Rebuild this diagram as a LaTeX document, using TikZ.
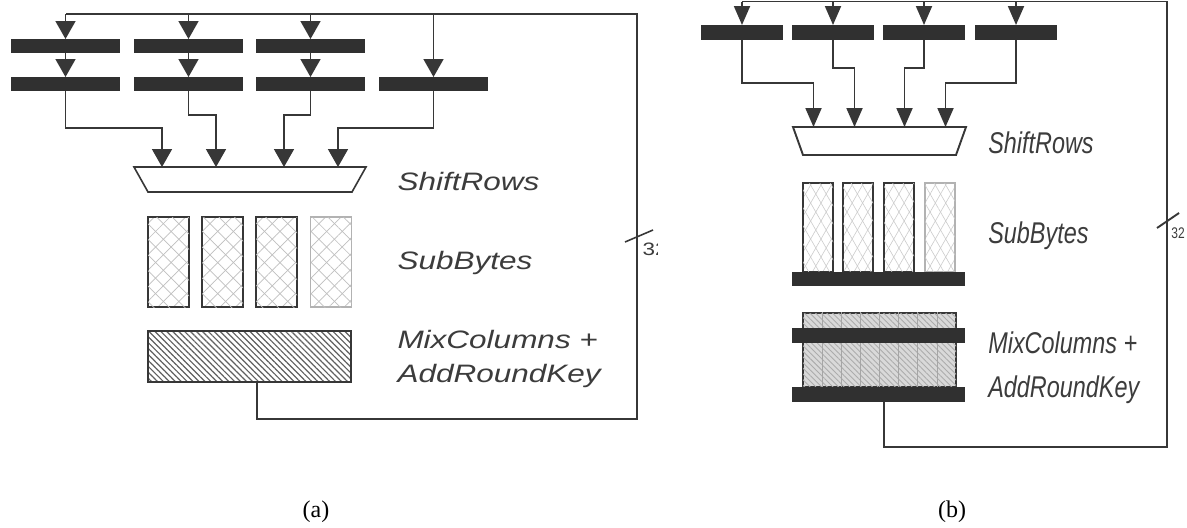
\documentclass[tikz,border=0pt]{standalone}
\usepackage{fontspec}
\setmainfont{Liberation Serif}
\setsansfont{Liberation Sans}
\usetikzlibrary{arrows.meta,patterns.meta}
\definecolor{linec}{RGB}{55,55,55}
\definecolor{barc}{RGB}{48,48,48}
\definecolor{txtc}{RGB}{60,60,60}

\begin{document}
\begin{tikzpicture}[x=0.5pt,y=-0.5pt]
\tikzset{
  wire/.style={draw=linec,line width=0.8pt},
  wireb/.style={draw=linec,line width=0.95pt},
  feeda/.style={wire,-{Triangle[length=9pt,width=10pt]}},
  feedb/.style={wireb,-{Triangle[length=9.5pt,width=8pt]}},
  rega/.style={rectangle,fill=barc,minimum width=54.5pt,minimum height=7pt,inner sep=0pt,outer sep=0pt},
  regb/.style={rectangle,fill=barc,minimum width=41pt,minimum height=7.5pt,inner sep=0pt,outer sep=0pt},
  wideb/.style={rectangle,fill=barc,minimum width=86.5pt,minimum height=7.5pt,inner sep=0pt,outer sep=0pt},
  muxbox/.style={rectangle,inner sep=0pt,outer sep=0pt},
  sboxa/.style={rectangle,draw=linec,line width=0.8pt,minimum width=20.5pt,minimum height=45pt,inner sep=0pt,
    pattern={Lines[angle=45,distance=5.5pt,line width=0.35pt]},pattern color=gray!50,
    postaction={pattern={Lines[angle=-45,distance=5.5pt,line width=0.35pt]},pattern color=gray!50}},
  sboxb/.style={rectangle,draw=linec,line width=0.95pt,minimum width=15pt,minimum height=44.5pt,inner sep=0pt,
    pattern={Lines[angle=60,distance=4.5pt,line width=0.3pt]},pattern color=gray!40,
    postaction={pattern={Lines[angle=-60,distance=4.5pt,line width=0.3pt]},pattern color=gray!40}},
  mixa/.style={rectangle,draw=linec,line width=0.8pt,minimum width=101.5pt,minimum height=25.5pt,inner sep=0pt,
    pattern={Lines[angle=-45,distance=2.1pt,line width=0.6pt]},pattern color=gray!75!black},
  mixb/.style={rectangle,draw=linec,line width=0.95pt,fill=gray!30,minimum width=76.5pt,minimum height=37pt,inner sep=0pt,
    postaction={pattern={Lines[angle=-45,distance=2pt,line width=0.45pt]},pattern color=gray!65}},
  divb/.style={draw=gray!70,line width=0.4pt},
  lbla/.style={font=\fontsize{12.6}{15}\selectfont\sffamily\itshape,text=txtc,inner sep=0pt,anchor=base west,xscale=1.25},
  lblb/.style={font=\fontsize{15}{18}\selectfont\sffamily\itshape,text=txtc,inner sep=0pt,anchor=base west,xscale=0.78},
  caption/.style={font=\fontsize{12}{14}\selectfont,inner sep=0pt}
}
\useasboundingbox[fill=white] (0,0) rectangle (1187,527);

\node[rega] (n_ap1) at (65.5,46) {};
\node[rega] (n_ap2) at (188.5,46) {};
\node[rega] (n_ap3) at (310.5,46) {};
\node[rega] (n_aq1) at (65.5,84) {};
\node[rega] (n_aq2) at (188.5,84) {};
\node[rega] (n_aq3) at (310.5,84) {};
\node[rega] (n_aq4) at (433.5,84) {};
\node[muxbox,minimum width=116pt,minimum height=12.5pt] (n_amux) at (250,179.5) {};
\node[sboxa] (n_as1) at (168.5,262) {};
\node[sboxa] (n_as2) at (222.5,262) {};
\node[sboxa] (n_as3) at (276.5,262) {};
\node[sboxa,draw=gray!60] (n_as4) at (331,262) {};
\node[mixa] (n_amix) at (249.5,356.5) {};
\coordinate (c_atr) at (637,14);
\coordinate (c_abr) at (637,419);
\node[lbla] (n_alsr) at (397,190) {ShiftRows};
\node[lbla] (n_alsb) at (397,269) {SubBytes};
\node[lbla] (n_almc) at (397,348) {MixColumns +};
\node[lbla] (n_alak) at (397,382) {AddRoundKey};
\draw[wire] ([xshift=3.75pt]n_amix.south) |- (c_abr) -- (c_atr) -- (n_ap1.north |- c_atr);
\draw[feeda] (n_ap1.north |- c_atr) -- (n_ap1.north);
\draw[feeda] (n_ap2.north |- c_atr) -- (n_ap2.north);
\draw[feeda] (n_ap3.north |- c_atr) -- (n_ap3.north);
\draw[feeda] (n_aq4.north |- c_atr) -- (n_aq4.north);
\draw[feeda] (n_ap1.south) -- (n_aq1.north);
\draw[feeda] (n_ap2.south) -- (n_aq2.north);
\draw[feeda] (n_ap3.south) -- (n_aq3.north);
\draw[feeda] (n_aq1.south) -- ++(0,37) -| ([xshift=-44pt]n_amux.north);
\draw[feeda] (n_aq2.south) -- ++(0,24) -| ([xshift=-17pt]n_amux.north);
\draw[feeda] (n_aq3.south) -- ++(0,24) -| ([xshift=17pt]n_amux.north);
\draw[feeda] (n_aq4.south) -- ++(0,37) -| ([xshift=44pt]n_amux.north);
\draw[wire] (n_amux.north west) -- (n_amux.north east) -- ([xshift=-7pt]n_amux.south east) -- ([xshift=7pt]n_amux.south west) -- cycle;
\draw[wire] (625,242) -- (653,230);
\begin{scope}
\clip (600,200) rectangle (657,270);
\node[lbla,font=\fontsize{9}{11}\selectfont\sffamily] (n_awid) at (642,255) {32};
\end{scope}

\node[regb] (n_bq1) at (742,32.5) {};
\node[regb] (n_bq2) at (833,32.5) {};
\node[regb] (n_bq3) at (924,32.5) {};
\node[regb] (n_bq4) at (1016,32.5) {};
\node[muxbox,minimum width=86.5pt,minimum height=14pt] (n_bmux) at (879.5,141) {};
\node[sboxb] (n_bs1) at (818,227.5) {};
\node[sboxb] (n_bs2) at (858,227.5) {};
\node[sboxb] (n_bs3) at (899,227.5) {};
\node[sboxb,draw=gray!60] (n_bs4) at (940,227.5) {};
\node[wideb,minimum height=7pt] (n_bsr) at (878.5,279) {};
\node[mixb] (n_bmix) at (879.5,350) {};
\foreach \dx in {-28.7,-19.1,-9.6,0,9.6,19.1,28.7}
  \draw[divb] ([xshift=\dx pt]n_bmix.north) -- ([xshift=\dx pt]n_bmix.south);
\node[wideb] (n_bm1) at (878.5,335.5) {};
\node[wideb] (n_bm2) at (878.5,394.5) {};
\coordinate (c_btr) at (1167,1.5);
\coordinate (c_bbr) at (1167,447);
\node[lblb] (n_blsr) at (988,153) {ShiftRows};
\node[lblb] (n_blsb) at (988,243) {SubBytes};
\node[lblb] (n_blmc) at (988,353) {MixColumns +};
\node[lblb] (n_blak) at (988,397) {AddRoundKey};
\draw[wireb] ([xshift=2.75pt]n_bm2.south) |- (c_bbr) -- (c_btr) -- (n_bq1.north |- c_btr);
\draw[feedb] (n_bq1.north |- c_btr) -- (n_bq1.north);
\draw[feedb] (n_bq2.north |- c_btr) -- (n_bq2.north);
\draw[feedb] (n_bq3.north |- c_btr) -- (n_bq3.north);
\draw[feedb] (n_bq4.north |- c_btr) -- (n_bq4.north);
\draw[feedb] (n_bq1.south) -- ++(0,43) -| ([xshift=-33pt]n_bmux.north);
\draw[feedb] (n_bq2.south) -- ++(0,28) -| ([xshift=-12.5pt]n_bmux.north);
\draw[feedb] (n_bq3.south) -- ++(0,28) -| ([xshift=12.5pt]n_bmux.north);
\draw[feedb] (n_bq4.south) -- ++(0,43) -| ([xshift=33pt]n_bmux.north);
\draw[wireb] (n_bmux.north west) -- (n_bmux.north east) -- ([xshift=-5pt]n_bmux.south east) -- ([xshift=5pt]n_bmux.south west) -- cycle;
\draw[wireb] (1157,228) -- (1179,213);
\node[lblb,font=\fontsize{7.7}{9}\selectfont\sffamily] (n_bwid) at (1171,238) {32};

\node[caption] (n_capa) at (316,512) {(a)};
\node[caption] (n_capb) at (952,512) {(b)};
\end{tikzpicture}
\end{document}
